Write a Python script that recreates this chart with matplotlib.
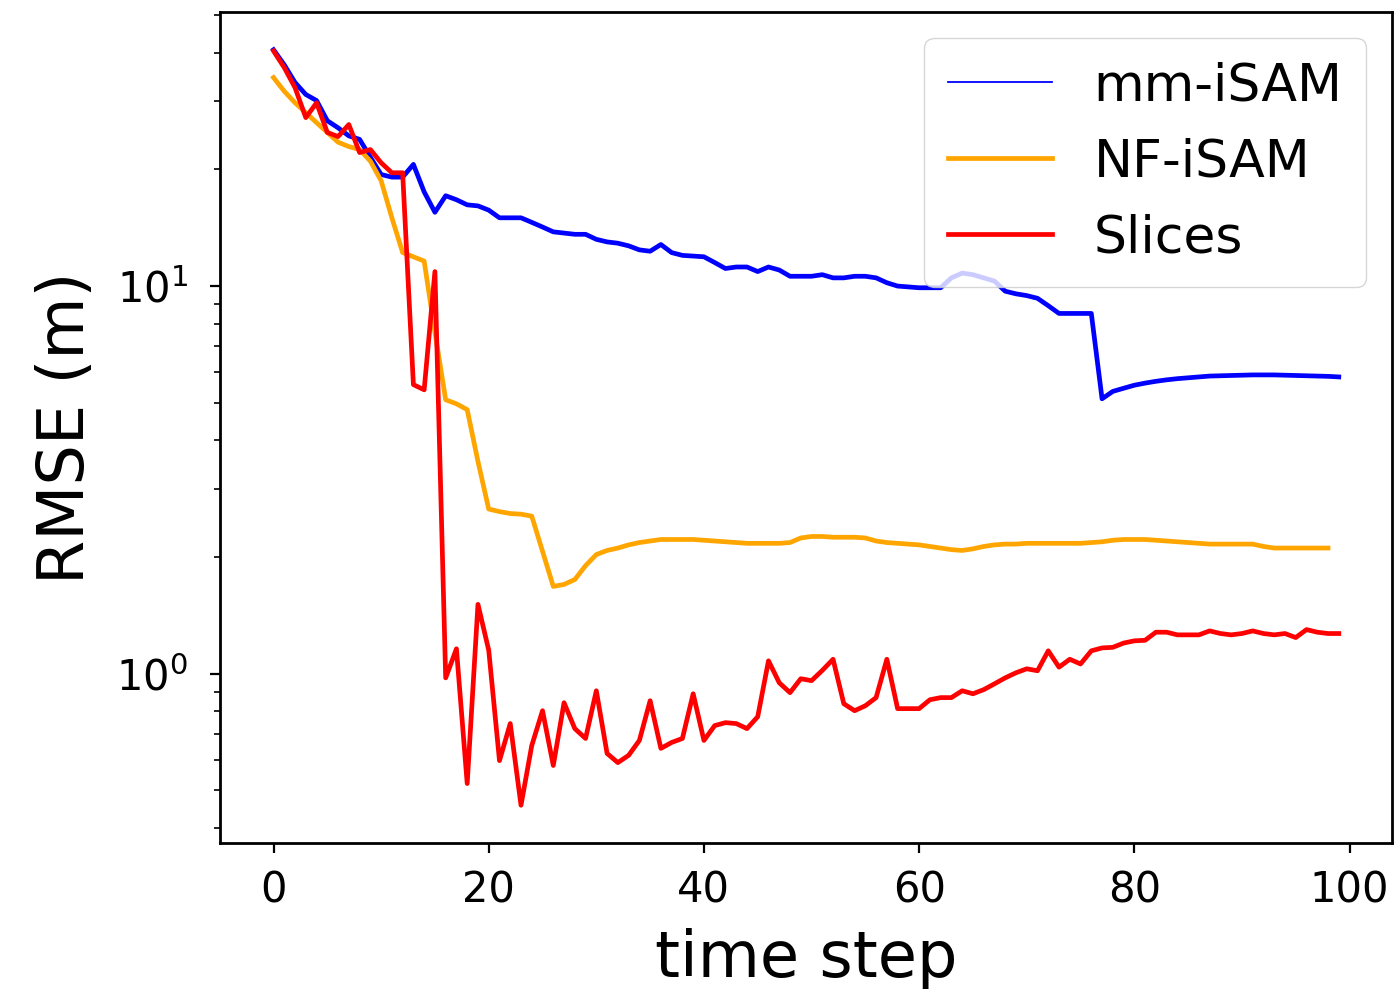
import matplotlib
matplotlib.use('Agg')
import matplotlib.pyplot as plt
import numpy as np

# RMSE per time step
mm_isam = [40.7, 37.2, 33.5, 31.2, 30.1, 26.7, 25.6, 24.4, 23.9, 21.5,
           19.4, 19.1, 19.1, 20.6, 17.5, 15.5, 17.1, 16.7, 16.2, 16.1,
           15.7, 15.0, 15.0, 15.0, 14.6, 14.2, 13.8, 13.7, 13.6, 13.6,
           13.2, 13.0, 12.9, 12.7, 12.4, 12.3, 12.8, 12.2, 12.0, 11.95,
           11.9, 11.5, 11.1, 11.2, 11.2, 10.9, 11.2, 11.0, 10.6, 10.6,
           10.6, 10.7, 10.5, 10.5, 10.6, 10.6, 10.5, 10.2, 10.0, 9.95,
           9.9, 9.9, 9.9, 10.5, 10.8, 10.7, 10.5, 10.3, 9.7, 9.55,
           9.45, 9.3, 8.9, 8.5, 8.5, 8.5, 8.5, 5.12, 5.35, 5.45,
           5.55, 5.62, 5.68, 5.73, 5.77, 5.80, 5.83, 5.86, 5.87, 5.88,
           5.89, 5.90, 5.90, 5.90, 5.89, 5.88, 5.87, 5.86, 5.85, 5.83]

nf_isam = [34.5, 31.8, 29.7, 28.0, 26.4, 24.9, 23.5, 22.9, 22.5, 21.0,
           18.7, 15.0, 12.2, 11.9, 11.6, 7.6, 5.09, 4.97, 4.80, 3.53,
           2.66, 2.62, 2.59, 2.58, 2.55, 2.07, 1.68, 1.70, 1.75, 1.90,
           2.03, 2.08, 2.11, 2.15, 2.18, 2.20, 2.22, 2.22, 2.22, 2.22,
           2.21, 2.20, 2.19, 2.18, 2.17, 2.17, 2.17, 2.17, 2.18, 2.24,
           2.26, 2.26, 2.25, 2.25, 2.25, 2.24, 2.20, 2.18, 2.17, 2.16,
           2.15, 2.13, 2.11, 2.09, 2.08, 2.10, 2.13, 2.15, 2.16, 2.16,
           2.17, 2.17, 2.17, 2.17, 2.17, 2.17, 2.18, 2.19, 2.21, 2.22,
           2.22, 2.22, 2.21, 2.20, 2.19, 2.18, 2.17, 2.16, 2.16, 2.16,
           2.16, 2.16, 2.13, 2.11, 2.11, 2.11, 2.11, 2.11, 2.11]

slices = [40.4, 36.6, 32.5, 27.2, 29.7, 24.9, 24.3, 26.1, 22.1, 22.5,
          20.8, 19.6, 19.6, 5.57, 5.40, 10.9, 0.976, 1.16, 0.521, 1.51,
          1.15, 0.597, 0.744, 0.458, 0.653, 0.803, 0.580, 0.842, 0.722, 0.681,
          0.904, 0.623, 0.590, 0.616, 0.673, 0.852, 0.642, 0.665, 0.681, 0.888,
          0.673, 0.735, 0.748, 0.744, 0.722, 0.775, 1.08, 0.948, 0.894, 0.971,
          0.960, 1.02, 1.09, 0.837, 0.803, 0.827, 0.868, 1.09, 0.813, 0.813,
          0.813, 0.857, 0.868, 0.868, 0.904, 0.888, 0.910, 0.942, 0.976, 1.006,
          1.03, 1.018, 1.146, 1.04, 1.09, 1.06, 1.146, 1.166, 1.17, 1.20,
          1.216, 1.22, 1.28, 1.28, 1.26, 1.26, 1.26, 1.29, 1.27, 1.26,
          1.27, 1.29, 1.27, 1.26, 1.27, 1.24, 1.30, 1.28, 1.27, 1.27]

labels = ['mm-iSAM', 'NF-iSAM', 'Slices']
colors = ['b', 'orange', 'r']

fig = plt.figure(figsize=(13.94, 9.89), dpi=100)
ax = fig.add_axes([0.158, 0.1476, 0.8406, 0.8403])

for ys, lab, c in zip([mm_isam, nf_isam, slices], labels, colors):
    ax.plot(np.arange(len(ys)), ys, color=c, lw=3.4, label=lab)

ax.set_yscale('log')
ax.set_xticks([0, 20, 40, 60, 80, 100])
ax.set_xlabel('time step', fontsize=46, labelpad=12)
ax.set_ylabel('RMSE (m)', fontsize=46, labelpad=14)
ax.tick_params(which='major', labelsize=30, length=7, width=1.6)
ax.tick_params(axis='x', which='major', pad=12)
ax.tick_params(axis='y', which='major', pad=16)
ax.tick_params(which='minor', length=4, width=1.2)
for s in ax.spines.values():
    s.set_linewidth(2)

leg = ax.legend(loc='upper right', fontsize=37.5, borderpad=0.45)
leg.get_lines()[0].set_linewidth(1.3)

fig.savefig('out.png', dpi=100)
